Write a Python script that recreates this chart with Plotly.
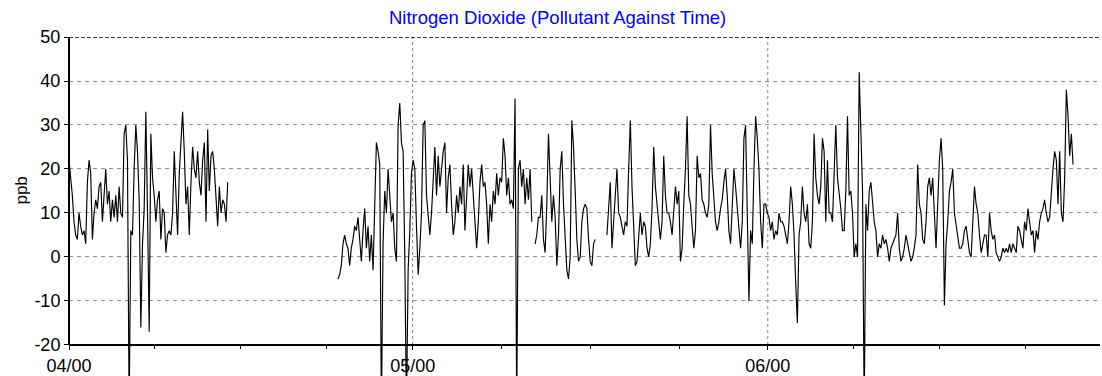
import pandas as pd
import plotly.graph_objects as go

# ---- data: NO2 (ppb), one reading every 3.5 h ----
sample_step = "210min"

seg1_start = "2000-04-01 00:00"
seg1_ppb = [
    22, 18, 14, 8, 5, 4, 10, 7, 5, 6,
    3, 17, 22, 19, 4, 10, 13, 11, 16, 17,
    8, 14, 20, 12, 15, 8, 13, 9, 14, 8,
    16, 10, 9, 28, 30, 22, -35, 6, 5, 20,
    30, 24, 13, -16, 3, 11, 33, 10, -17, 28,
    18, 14, 8, 13, 15, 4, 11, 10, 1, 5,
    6, 5, 10, 24, 12, 5, 19, 27, 33, 24,
    12, 16, 5, 17, 25, 20, 18, 24, 17, 14,
    22, 26, 8, 29, 15, 23, 24, 20, 13, 7,
    16, 10, 13, 12, 8, 17,
]

seg2_start = "2000-04-24 11:30"
seg2_ppb = [
    -5, -4, -2, 3, 5, 3, 2, -2, 2, 4,
    7, 6, 9, 4, -1, 6, 11, 2, 7, -1,
    5, -3, 10, 26, 24, 21, -35, 3, 15, 10,
    20, 14, 8, 10, 2, -1, 30, 35, 26, 24,
    0, -35, -3, 6, 19, 22, 20, 7, -4, 2,
    10, 30, 31, 14, 9, 5, 10, 18, 25, 14,
    23, 16, 20, 24, 26, 10, 18, 21, 12, 5,
    8, 14, 10, 16, 12, 21, 6, 14, 21, 16,
    20, 14, 7, 2, 8, 17, 21, 16, 17, 12,
    3, 12, 8, 15, 12, 19, 14, 18, 17, 27,
    23, 14, 18, 12, 13, 11, 36, -35, 20, 22,
    16, 20, 12, 18, 13, 20, 8, None, 3, 5,
    9, 9, 14, 4, 1, 12, 28, 18, 8, 14,
    9, -2, 5, 20, 24, 12, 5, -3, -5, 0,
    31, 25, 15, 4, -1, 0, 8, 11, 12, 11,
    4, -1, -2, 3, 4,
]

seg3_start = "2000-05-17 23:00"
seg3_ppb = [
    5, 11, 17, 2, 8, 12, 20, 10, 9,
    7, 5, 8, 7, 20, 31, 16, 8, -2, -1,
    6, 10, 5, 8, 7, 2, 0, 3, 11, 25,
    16, 12, 8, 4, 8, 23, 14, 10, 10, 8,
    5, 12, 16, 12, 15, -1, 2, 12, 20, 32,
    14, 12, 6, 2, 6, 23, 18, 19, 13, 12,
    10, 9, 12, 30, 19, 14, 8, 6, 8, 11,
    13, 17, 20, 14, 6, 3, 12, 20, 16, 11,
    5, 2, 8, 27, 30, 10, -10, 6, 3, 20,
    32, 27, 20, 8, 2, 12, 12, 10, 9, 6,
    8, 4, 6, 5, 10, 8, 8, 7, 5, 3,
    8, 16, 12, 5, -6, -15, 5, 8, 16, 10,
    8, 12, 3, 2, 8, 28, 18, 14, 12, 16,
    27, 24, 8, 22, 10, 10, 8, 20, 30, 18,
    15, 11, 6, 6, 15, 32, 14, 15, 10, 0,
    3, 0, 42, 30, 15, -35, 12, 6, 15, 17,
    13, 8, 6, 0, 3, 2, 5, 3, 4, 2,
    -1, 2, 3, 4, 5, 10, 2, -1, 0, 2,
    5, 3, 1, -1, 0, 2, 5, 21, 12, 10,
    4, 3, 8, 16, 18, 14, 18, 10, 2, 12,
    22, 27, 20, -11, 3, 8, 15, 17, 20, 10,
    7, 4, 2, 2, 3, 6, 7, 4, 1, 0,
    10, 16, 12, 10, 5, 1, 3, 5, 5, 0,
    10, 6, 4, 5, 1, 0, -1, 0, 2, 1,
    2, 1, 3, 1, 3, 2, 1, 7, 6, 4,
    2, 8, 6, 11, 8, 5, 6, 1, 6, 4,
    8, 10, 11, 13, 10, 8, 9, 15, 20, 24,
    22, 12, 24, 10, 8, 18, 38, 32, 23, 28,
    21,
]

segments = [(seg1_start, seg1_ppb), (seg2_start, seg2_ppb), (seg3_start, seg3_ppb)]

x_range = ["2000-04-01", "2000-06-30"]
month_ticks = ["2000-04-01", "2000-05-01", "2000-06-01"]
month_labels = ["04/00", "05/00", "06/00"]
quarter_ticks = ["2000-04-08 12:00", "2000-04-16", "2000-04-23 12:00",
                 "2000-05-08 18:00", "2000-05-16 12:00", "2000-05-24 06:00",
                 "2000-06-08 12:00", "2000-06-16", "2000-06-23 12:00"]
y_ticks = [-20, -10, 0, 10, 20, 30, 40, 50]
y_labels = ["-20", "-10", "0", "10", "20", "30", "40", "50"]
y_bottom, y_top = -20, 50
y_view_bottom = -27.05   # lets deep dips run below the axis to the page edge

# join the segments, with a break between them
xs, ys = [], []
for start, vals in segments:
    t = pd.date_range(start=start, periods=len(vals), freq=sample_step)
    xs.extend(t)
    ys.extend(vals)
    xs.append(t[-1])
    ys.append(None)

FONT = "Liberation Sans, Arial, sans-serif"

fig = go.Figure()
fig.add_trace(go.Scatter(
    x=xs, y=ys, mode="lines",
    line=dict(color="black", width=1.15),
    connectgaps=False, hoverinfo="x+y",
))

shapes = []
for m in month_ticks[1:]:
    shapes.append(dict(type="line", xref="x", yref="y", x0=m, x1=m,
                       y0=y_bottom, y1=y_top, layer="below",
                       line=dict(color="#808080", width=1, dash="3px,3px")))
shapes.append(dict(type="line", xref="paper", yref="y", x0=0, x1=1,
                   y0=y_top, y1=y_top,
                   line=dict(color="black", width=1.5, dash="4px,2px")))
shapes.append(dict(type="line", xref="paper", yref="y", x0=0, x1=0,
                   y0=y_bottom, y1=y_top,
                   line=dict(color="black", width=2)))

pos_bottom = (y_bottom - y_view_bottom) / (y_top - y_view_bottom)

fig.update_layout(
    width=1102, height=376,
    margin=dict(l=69, r=2, t=37, b=0, autoexpand=False),
    plot_bgcolor="white", paper_bgcolor="white",
    showlegend=False,
    title=dict(text="Nitrogen Dioxide (Pollutant Against Time)",
               x=0.506, xanchor="center", xref="container",
               y=1 - 18 / 376, yanchor="middle", yref="container",
               font=dict(family=FONT, size=18.5, color="#0000ff")),
    shapes=shapes,
    annotations=[dict(text="ppb", xref="paper", yref="y",
                      x=-0.046, y=15, xanchor="center", yanchor="middle",
                      textangle=-90, showarrow=False,
                      font=dict(family=FONT, size=17, color="black"))],
    xaxis=dict(
        type="date", range=x_range,
        anchor="free", position=pos_bottom,
        showline=True, linecolor="black", linewidth=2,
        ticks="outside", ticklen=4, tickwidth=1, tickcolor="black",
        tickmode="array", tickvals=month_ticks, ticktext=month_labels,
        tickfont=dict(family=FONT, size=18, color="black"),
        showgrid=False, zeroline=False,
        minor=dict(tickmode="array", tickvals=quarter_ticks, ticks="outside",
                   ticklen=3, tickcolor="black", showgrid=False),
    ),
    yaxis=dict(
        range=[y_view_bottom, y_top],
        tickmode="array", tickvals=y_ticks, ticktext=y_labels,
        ticks="outside", ticklen=4, tickcolor="black",
        tickfont=dict(family=FONT, size=18, color="black"),
        showgrid=True, gridcolor="#8c8c8c", gridwidth=1, griddash="4px,4px",
        showline=False, zeroline=False,
    ),
)

fig.write_html("out.html",
               config={"displayModeBar": False},
               post_script="document.body.style.margin='0';"
                           "document.body.style.overflow='hidden';")
